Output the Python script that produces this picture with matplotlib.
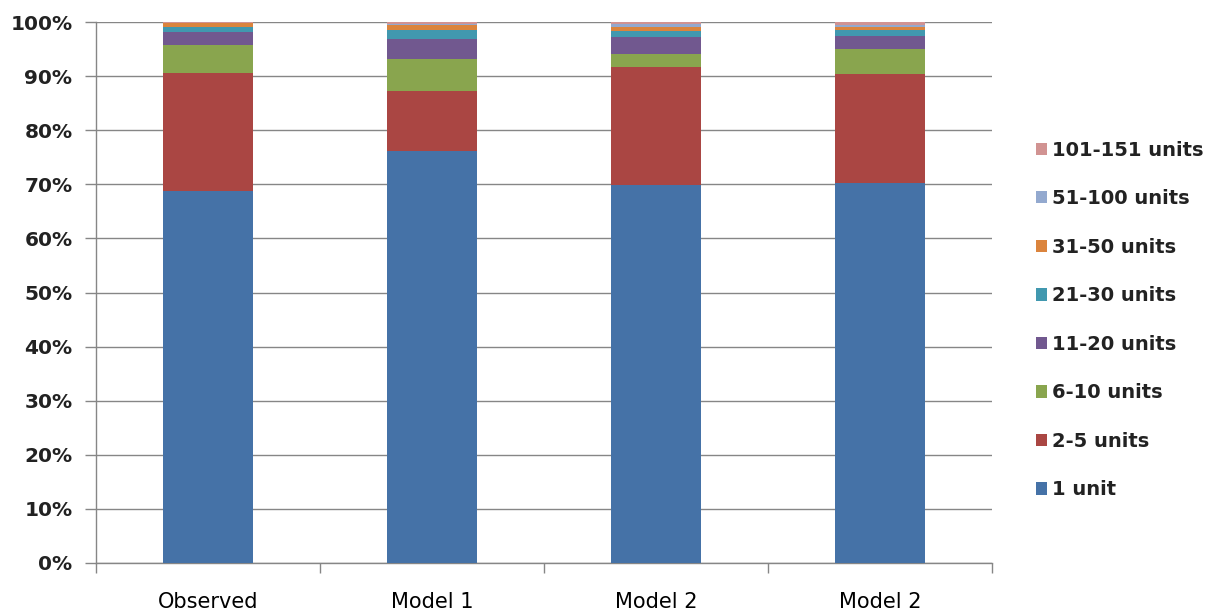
import numpy as np
import matplotlib.pyplot as plt
from matplotlib.patches import Patch
from matplotlib.ticker import PercentFormatter

plt.rcParams['font.family'] = ['DejaVu Sans']

categories = ['Observed', 'Model 1', 'Model 2', 'Model 2']
series = ['1 unit', '2-5 units', '6-10 units', '11-20 units',
          '21-30 units', '31-50 units', '51-100 units', '101-151 units']

# share of each size class (%) per bar, bottom to top
unit_1 = [68.8, 76.2, 69.9, 70.2]
units_2_5 = [21.8, 11.1, 21.8, 20.1]
units_6_10 = [5.1, 5.8, 2.4, 4.8]
units_11_20 = [2.4, 3.7, 3.1, 2.3]
units_21_30 = [0.9, 1.8, 1.1, 1.2]
units_31_50 = [0.8, 0.8, 0.7, 0.5]
units_51_100 = [0.1, 0.2, 0.6, 0.3]
units_101_151 = [0.1, 0.4, 0.4, 0.6]

values = [unit_1, units_2_5, units_6_10, units_11_20,
          units_21_30, units_31_50, units_51_100, units_101_151]
colors = ['#4572A7', '#AA4643', '#89A54E', '#71588F',
          '#4198AF', '#DB843D', '#93A9CF', '#D19392']

fig = plt.figure(figsize=(12.13, 6.15), dpi=100)
ax = fig.add_axes([96 / 1213, 1 - 563 / 615, 896 / 1213, 541 / 615])

x = np.arange(len(categories))
bottom = np.zeros(len(categories))
for vals, col in zip(values, colors):
    vals = np.array(vals)
    ax.bar(x, vals, width=0.4, bottom=bottom, color=col, edgecolor='none', zorder=3)
    bottom += vals

ax.set_xlim(-0.5, len(categories) - 0.5)
ax.set_ylim(0, 100)
ax.set_yticks(np.arange(0, 101, 10))
ax.yaxis.set_major_formatter(PercentFormatter(decimals=0))
ax.grid(axis='y', color='#868686', linewidth=1, zorder=0)

# category labels centred, tick marks between categories
ax.set_xticks(x)
ax.set_xticklabels(categories, fontsize=15)
ax.set_xticks(np.arange(-0.5, len(categories)), minor=True)
ax.tick_params(axis='x', which='major', length=0, pad=21)
ax.tick_params(axis='x', which='minor', length=7, color='#868686', width=1)
ax.tick_params(axis='y', length=8, color='#868686', width=1, labelsize=14.5, pad=9)
for lbl in ax.get_yticklabels():
    lbl.set_fontweight('bold')
    lbl.set_color('#222222')

for side in ['top', 'right']:
    ax.spines[side].set_visible(False)
for side in ['left', 'bottom']:
    ax.spines[side].set_color('#868686')
    ax.spines[side].set_linewidth(1)

handles = [Patch(facecolor=c, edgecolor='none') for c in colors]
leg = fig.legend(handles[::-1], series[::-1], loc='center left',
                 bbox_to_anchor=(1018 / 1213, 1 - 320 / 615), frameon=False,
                 prop={'size': 14, 'weight': 'bold'}, handlelength=0.6,
                 handleheight=0.6, handletextpad=0.25, labelspacing=1.52)
for t in leg.get_texts():
    t.set_color('#222222')

fig.savefig('out.png', dpi=100, facecolor='white')
